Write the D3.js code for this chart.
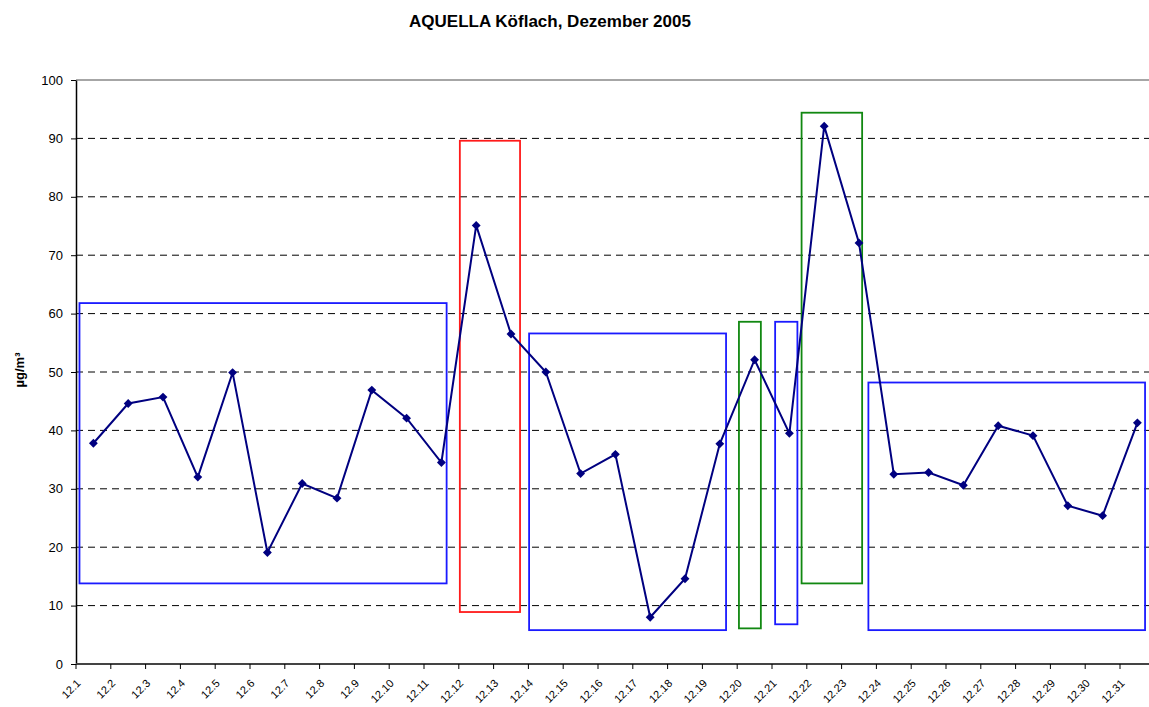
<!DOCTYPE html>
<html>
<head>
<meta charset="utf-8">
<script src="https://cdn.jsdelivr.net/npm/d3@7"></script>
<style>
body { margin: 0; background: #fff; }
text { font-family: "Liberation Sans", Arial, sans-serif; }
</style>
</head>
<body>
<script>
var w = 1149;
var h = 707;

// data
var days = d3.range(1, 32).map(function(d) { return "12." + d; });
var values = [37.8, 44.6, 45.7, 32.0, 49.9, 19.1, 30.9, 28.4, 46.9, 42.1, 34.5,
    75.1, 56.5, 50.0, 32.6, 35.9, 8.0, 14.6, 37.7, 52.1, 39.5,
    92.1, 72.1, 32.5, 32.8, 30.6, 40.8, 39.1, 27.1, 25.4, 41.3];
var yTicks = [0, 10, 20, 30, 40, 50, 60, 70, 80, 90, 100];

// highlight boxes: from/to in day-index units (0 = 12.1), lo/hi in µg/m³
var boxFrom = [-0.40, 10.53, 12.52, 18.55, 19.59, 20.35, 22.27];
var boxTo   = [10.15, 12.26, 18.18, 19.18, 20.23, 22.09, 30.22];
var boxLo   = [13.8, 8.9, 5.8, 6.1, 6.8, 13.8, 5.8];
var boxHi   = [61.8, 89.6, 56.6, 58.6, 58.6, 94.4, 48.2];
var boxColor = ["#1a1aff", "#ff1a1a", "#1a1aff", "#118811", "#1a1aff", "#118811", "#1a1aff"];

var plotLeft = 76, plotTop = 80, plotBottom = 664;
var band = 34.8;

var svg = d3.select("body")
    .append("svg")
    .attr("width", w)
    .attr("height", h);

var xScale = d3.scaleBand()
    .domain(days)
    .range([plotLeft, plotLeft + band * days.length])
    .padding(0);

var yScale = d3.scaleLinear()
    .domain([0, 100])
    .range([plotBottom, plotTop]);

var xIdx = d3.scaleLinear() // fractional day index -> pixel
    .domain([0, days.length - 1])
    .range([xScale(days[0]) + xScale.bandwidth() / 2,
            xScale(days[days.length - 1]) + xScale.bandwidth() / 2]);

// title
svg.append("text")
    .attr("x", 550)
    .attr("y", 27)
    .attr("text-anchor", "middle")
    .attr("font-size", "17px")
    .attr("font-weight", "bold")
    .text("AQUELLA Köflach, Dezember 2005");

// gridlines
svg.append("g")
    .selectAll("line")
    .data(yTicks.filter(function(d) { return d > 0; }))
    .enter()
    .append("line")
    .attr("x1", plotLeft)
    .attr("x2", w)
    .attr("y1", function(d) { return yScale(d); })
    .attr("y2", function(d) { return yScale(d); })
    .attr("stroke", function(d) { return d == 100 ? "#888" : "#000"; })
    .attr("stroke-width", function(d) { return d == 100 ? 1.5 : 1; })
    .attr("stroke-dasharray", function(d) { return d == 100 ? null : "7,5"; });

// y axis
var yAxis = d3.axisLeft(yScale)
    .tickValues(yTicks)
    .tickSize(5)
    .tickPadding(8)
    .tickSizeOuter(0);
var gy = svg.append("g")
    .attr("transform", "translate(" + plotLeft + ",0)")
    .call(yAxis);
gy.selectAll("text").attr("font-size", "13px").attr("font-family", "Liberation Sans, Arial, sans-serif").attr("fill", "#000");
gy.select(".domain").attr("stroke", "#000").attr("stroke-width", 1.5);
gy.selectAll(".tick line").attr("stroke", "#000");

svg.append("text")
    .attr("transform", "translate(24,370) rotate(-90)")
    .attr("text-anchor", "middle")
    .attr("font-size", "13px")
    .attr("font-weight", "bold")
    .text("µg/m³");

// x axis: ticks between categories, labels rotated
var gx = svg.append("g");
gx.append("line")
    .attr("x1", plotLeft)
    .attr("x2", w)
    .attr("y1", plotBottom)
    .attr("y2", plotBottom)
    .attr("stroke", "#444")
    .attr("stroke-width", 2);
gx.selectAll("line.tk")
    .data(days)
    .enter()
    .append("line")
    .attr("class", "tk")
    .attr("x1", function(d) { return xScale(d); })
    .attr("x2", function(d) { return xScale(d); })
    .attr("y1", plotBottom)
    .attr("y2", plotBottom + 5)
    .attr("stroke", "#000");
gx.selectAll("text")
    .data(days)
    .enter()
    .append("text")
    .attr("transform", function(d) {
        return "translate(" + (xScale(d) + xScale.bandwidth() / 2 - 12) + "," + (plotBottom + 20) + ") rotate(-45)";
    })
    .attr("text-anchor", "end")
    .attr("font-size", "11px")
    .attr("fill", "#000")
    .text(function(d) { return d; });

// highlight boxes
svg.append("g")
    .selectAll("rect")
    .data(boxFrom)
    .enter()
    .append("rect")
    .attr("x", function(d) { return xIdx(d); })
    .attr("y", function(d, i) { return yScale(boxHi[i]); })
    .attr("width", function(d, i) { return xIdx(boxTo[i]) - xIdx(d); })
    .attr("height", function(d, i) { return yScale(boxLo[i]) - yScale(boxHi[i]); })
    .attr("fill", "none")
    .attr("stroke", function(d, i) { return boxColor[i]; })
    .attr("stroke-width", 1.8);

// line
var line = d3.line()
    .x(function(d, i) { return xScale(days[i]) + xScale.bandwidth() / 2; })
    .y(function(d) { return yScale(d); });

svg.append("path")
    .datum(values)
    .attr("d", line)
    .attr("fill", "none")
    .attr("stroke", "#000080")
    .attr("stroke-width", 2);

svg.append("g")
    .selectAll("path")
    .data(values)
    .enter()
    .append("path")
    .attr("d", d3.symbol().type(d3.symbolDiamond2).size(50))
    .attr("transform", function(d, i) {
        return "translate(" + (xScale(days[i]) + xScale.bandwidth() / 2) + "," + yScale(d) + ")";
    })
    .attr("fill", "#000080");
</script>
</body>
</html>
